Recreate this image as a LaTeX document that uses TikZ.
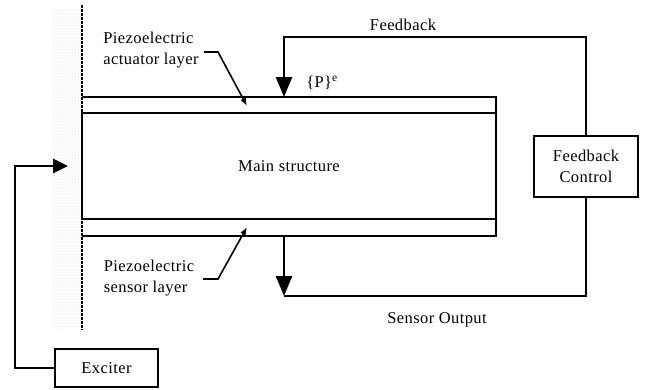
\documentclass[tikz,border=0pt]{standalone}
\usepackage{fontspec}
\setmainfont[LetterSpace=2.5]{Liberation Serif}
\usetikzlibrary{arrows.meta, patterns}

\tikzset{
  lbl/.style={font=\fontsize{16.5}{20.5}\selectfont, align=center, inner sep=0pt},
  blockbox/.style={draw, line width=1.8pt, inner sep=0pt},
  signal/.style={line width=2.7pt},
  leader/.style={line width=1.6pt, -{Latex[length=8pt, width=6pt]}}
}

\begin{document}
\begin{tikzpicture}[x=1pt, y=-1pt]
  \useasboundingbox (0,0) rectangle (645,389);

  % clamped edge
  \fill[pattern=dots, pattern color=gray!45] (52,10) rectangle (80,328);
  \draw[line width=1.2pt, dash pattern=on 2.5pt off 1.5pt] (82,5) -- (82,330);

  % beam with piezo layers
  \node[blockbox, lbl, minimum width=414pt, minimum height=106pt] (main) at (289,166) {Main structure};
  \node[minimum width=414pt, minimum height=16pt, inner sep=0pt] (actuator) at (289,105) {};
  \node[minimum width=414pt, minimum height=17pt, inner sep=0pt] (sensor) at (289,227.5) {};
  \draw[blockbox] (actuator.north west) -- (actuator.north east) -- (actuator.south east);
  \draw[blockbox] (sensor.south west) -- (sensor.south east) -- (sensor.north east);

  % boxes
  \node[blockbox, lbl, minimum width=104pt, minimum height=61pt] (fbctrl) at (586,166.5) {Feedback\\Control};
  \node[blockbox, lbl, minimum width=103pt, minimum height=38pt] (exciter) at (106.5,368) {Exciter};

  % labels
  \node[lbl, align=left] (actlbl) at (151,50) {Piezoelectric\\actuator layer};
  \node[lbl, align=left] (senslbl) at (149,278) {Piezoelectric\\sensor layer};
  \node[lbl] (plbl) at (322,83) {\{P\}\textsuperscript{e}};
  \node[lbl] (fblbl) at (403,25) {Feedback};
  \node[lbl] (outlbl) at (437,320) {Sensor Output};

  % points on the signal paths
  \coordinate (fbtop) at (284,37);
  \coordinate (fbin) at (284,97);
  \coordinate (sout) at (284,236);
  \coordinate (sbot) at (284,296);
  \coordinate (excorner) at (15,166);
  \coordinate (exin) at (68,166);
  \coordinate (acttip) at (247,106);
  \coordinate (senstip) at (247,227);

  % signals
  \draw[signal, -{Triangle[width=16pt, length=20pt]}] (fbctrl.north) |- (fbtop) -- (fbin);
  \draw[signal] (fbctrl.south) |- (sbot);
  \draw[signal, -{Triangle[width=16pt, length=20pt]}] (sout) -- (sbot);
  \draw[signal, -{Triangle[width=14pt, length=15pt]}] (exciter.west) -| (excorner) -- (exin);

  % leaders
  \draw[leader] (204,52) -- (218,52) -- (acttip);
  \draw[leader] (203,279) -- (218,279) -- (senstip);
\end{tikzpicture}
\end{document}
